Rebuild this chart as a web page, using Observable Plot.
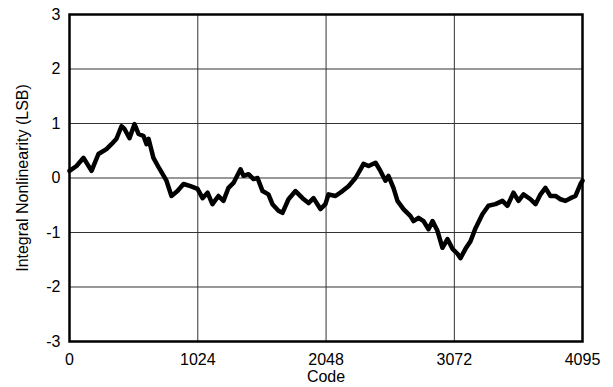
<!DOCTYPE html>
<html>
<head>
<meta charset="utf-8">
<script src="https://cdn.jsdelivr.net/npm/d3@7"></script>
<script src="https://cdn.jsdelivr.net/npm/@observablehq/plot@0.6"></script>
<style>
  html, body { margin: 0; padding: 0; background: #fff; }
  #chart svg { font-family: "Liberation Sans", Arial, sans-serif; }
</style>
</head>
<body>
<div id="chart"></div>
<script>
const codes = [0, 56, 112, 176, 231, 295, 335, 375, 415, 439, 479, 519, 551, 591, 615, 631, 670, 718, 774, 814,
  862, 910, 966, 1022, 1062, 1102, 1141, 1189, 1229, 1269, 1309, 1365, 1389, 1429, 1469, 1501, 1541, 1588, 1620, 1668,
  1700, 1748, 1804, 1860, 1908, 1948, 2003, 2043, 2067, 2123, 2179, 2227, 2283, 2323, 2347, 2387, 2443, 2482, 2522, 2546,
  2586, 2618, 2666, 2722, 2746, 2786, 2826, 2866, 2898, 2937, 2977, 3017, 3057, 3097, 3121, 3161, 3201, 3241, 3297, 3344,
  3400, 3456, 3496, 3544, 3584, 3624, 3680, 3720, 3760, 3799, 3839, 3879, 3919, 3959, 3999, 4039, 4079, 4095];
const inl = [0.13, 0.22, 0.37, 0.13, 0.44, 0.53, 0.62, 0.72, 0.95, 0.90, 0.73, 0.99, 0.81, 0.77, 0.62, 0.72, 0.37, 0.17, -0.05, -0.33,
  -0.24, -0.11, -0.15, -0.20, -0.37, -0.27, -0.48, -0.33, -0.42, -0.18, -0.09, 0.16, 0.04, 0.07, -0.02, 0.00, -0.24, -0.30, -0.48, -0.60,
  -0.64, -0.39, -0.24, -0.37, -0.46, -0.37, -0.57, -0.48, -0.30, -0.33, -0.24, -0.15, 0.00, 0.16, 0.26, 0.22, 0.28, 0.13, -0.05, 0.04,
  -0.18, -0.42, -0.57, -0.70, -0.79, -0.73, -0.79, -0.94, -0.79, -0.97, -1.28, -1.12, -1.30, -1.39, -1.47, -1.30, -1.16, -0.92, -0.66, -0.51,
  -0.48, -0.42, -0.51, -0.27, -0.42, -0.30, -0.39, -0.48, -0.30, -0.18, -0.33, -0.33, -0.39, -0.42, -0.37, -0.33, -0.11, -0.05];
const xTicks = [0, 1024, 2048, 3072, 4095];
const yTicks = [-3, -2, -1, 0, 1, 2, 3];
const xGrid = [1024, 2048, 3072];
const yGrid = [-2, -1, 0, 1, 2];

const data = codes.map((c, i) => ({code: c, inl: inl[i]}));

const chart = Plot.plot({
  width: 613,
  height: 387,
  marginLeft: 69,
  marginRight: 31,
  marginTop: 14,
  marginBottom: 46,
  style: {fontSize: "16px", fontFamily: "Liberation Sans, Arial, sans-serif", color: "black", background: "white"},
  x: {domain: [0, 4095]},
  y: {domain: [-3, 3]},
  marks: [
    Plot.ruleY(yGrid, {stroke: "#333", strokeWidth: 1}),
    Plot.ruleX(xGrid, {stroke: "#333", strokeWidth: 1}),
    Plot.line(data, {x: "code", y: "inl", stroke: "black", strokeWidth: 4.5, strokeLinejoin: "round"}),
    Plot.frame({stroke: "black", strokeWidth: 2.5}),
    Plot.axisX({ticks: xTicks, tickSize: 0, tickPadding: 12, tickFormat: d => String(d), fontSize: 16,
      label: "Code", labelAnchor: "center", labelOffset: 40, labelArrow: "none"}),
    Plot.axisY({ticks: yTicks, tickSize: 0, tickPadding: 9, tickFormat: d => String(d), fontSize: 16,
      label: "Integral Nonlinearity (LSB)", labelAnchor: "center", labelOffset: 53, labelArrow: "none"})
  ]
});
document.getElementById("chart").appendChild(chart);
</script>
</body>
</html>
